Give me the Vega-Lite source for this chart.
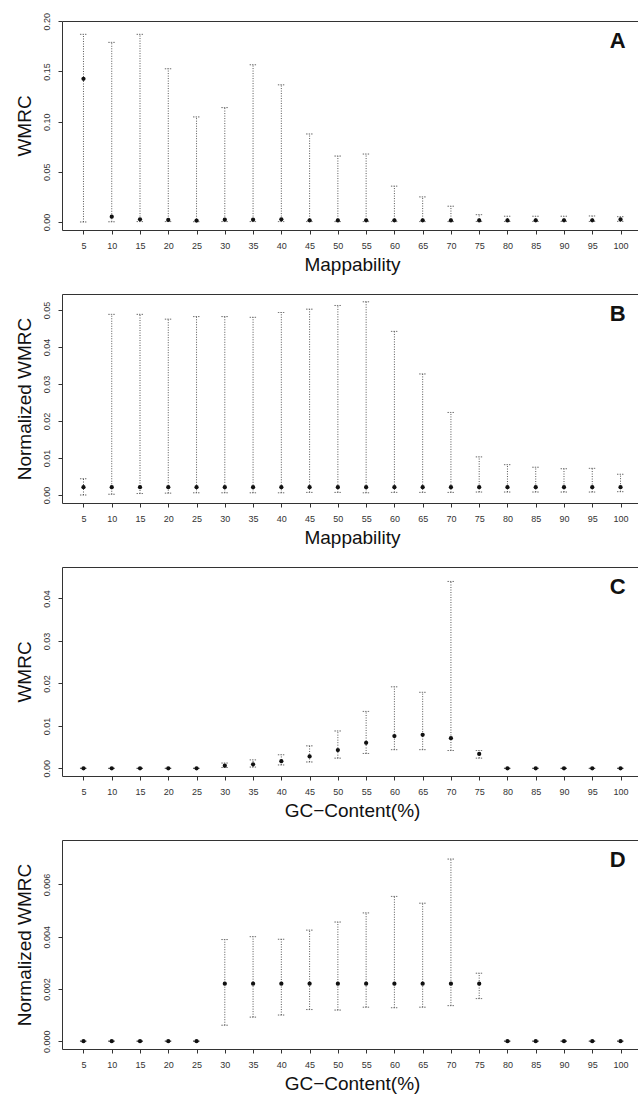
{
  "$schema": "https://vega.github.io/schema/vega-lite/v6.json",
  "padding": {"left": 14, "top": 12, "right": 0, "bottom": 0},
  "spacing": 18,
  "datasets": {
    "bars": [
      {"panel": "A", "x": 5, "mid": 0.1427, "lo": 0, "hi": 0.187},
      {"panel": "A", "x": 10, "mid": 0.0053, "lo": 0.0002, "hi": 0.179},
      {"panel": "A", "x": 15, "mid": 0.0027, "lo": 0.0004, "hi": 0.187},
      {"panel": "A", "x": 20, "mid": 0.002, "lo": 0.0004, "hi": 0.1527},
      {"panel": "A", "x": 25, "mid": 0.0014, "lo": 0.0003, "hi": 0.1047},
      {"panel": "A", "x": 30, "mid": 0.0023, "lo": 0.0004, "hi": 0.114},
      {"panel": "A", "x": 35, "mid": 0.0023, "lo": 0.0004, "hi": 0.1567},
      {"panel": "A", "x": 40, "mid": 0.0027, "lo": 0.0004, "hi": 0.1367},
      {"panel": "A", "x": 45, "mid": 0.0017, "lo": 0.0004, "hi": 0.0877},
      {"panel": "A", "x": 50, "mid": 0.0015, "lo": 0.0004, "hi": 0.0657},
      {"panel": "A", "x": 55, "mid": 0.0016, "lo": 0.0004, "hi": 0.0677},
      {"panel": "A", "x": 60, "mid": 0.0016, "lo": 0.0004, "hi": 0.0357},
      {"panel": "A", "x": 65, "mid": 0.0016, "lo": 0.0004, "hi": 0.025},
      {"panel": "A", "x": 70, "mid": 0.0015, "lo": 0.0004, "hi": 0.0157},
      {"panel": "A", "x": 75, "mid": 0.0015, "lo": 0.0005, "hi": 0.0073},
      {"panel": "A", "x": 80, "mid": 0.0015, "lo": 0.0005, "hi": 0.0057},
      {"panel": "A", "x": 85, "mid": 0.0016, "lo": 0.0005, "hi": 0.0057},
      {"panel": "A", "x": 90, "mid": 0.0016, "lo": 0.0005, "hi": 0.0057},
      {"panel": "A", "x": 95, "mid": 0.0016, "lo": 0.0005, "hi": 0.006},
      {"panel": "A", "x": 100, "mid": 0.0025, "lo": 0.0006, "hi": 0.0053},
      {"panel": "B", "x": 5, "mid": 0.0021, "lo": 0, "hi": 0.0044},
      {"panel": "B", "x": 10, "mid": 0.0021, "lo": 0.0002, "hi": 0.0488},
      {"panel": "B", "x": 15, "mid": 0.0021, "lo": 0.0004, "hi": 0.0488},
      {"panel": "B", "x": 20, "mid": 0.0021, "lo": 0.0005, "hi": 0.0475},
      {"panel": "B", "x": 25, "mid": 0.0021, "lo": 0.0006, "hi": 0.0482},
      {"panel": "B", "x": 30, "mid": 0.0021, "lo": 0.0006, "hi": 0.0482},
      {"panel": "B", "x": 35, "mid": 0.0021, "lo": 0.0006, "hi": 0.048},
      {"panel": "B", "x": 40, "mid": 0.0021, "lo": 0.0006, "hi": 0.0493},
      {"panel": "B", "x": 45, "mid": 0.0021, "lo": 0.0007, "hi": 0.0502},
      {"panel": "B", "x": 50, "mid": 0.0021, "lo": 0.0007, "hi": 0.0512},
      {"panel": "B", "x": 55, "mid": 0.0021, "lo": 0.0006, "hi": 0.0522},
      {"panel": "B", "x": 60, "mid": 0.0021, "lo": 0.0007, "hi": 0.0442},
      {"panel": "B", "x": 65, "mid": 0.0021, "lo": 0.0007, "hi": 0.0327},
      {"panel": "B", "x": 70, "mid": 0.0021, "lo": 0.0007, "hi": 0.0223},
      {"panel": "B", "x": 75, "mid": 0.0021, "lo": 0.0008, "hi": 0.0103},
      {"panel": "B", "x": 80, "mid": 0.0021, "lo": 0.0008, "hi": 0.0082},
      {"panel": "B", "x": 85, "mid": 0.0021, "lo": 0.0008, "hi": 0.0075},
      {"panel": "B", "x": 90, "mid": 0.0021, "lo": 0.0008, "hi": 0.0071},
      {"panel": "B", "x": 95, "mid": 0.0021, "lo": 0.0008, "hi": 0.0072},
      {"panel": "B", "x": 100, "mid": 0.0021, "lo": 0.0009, "hi": 0.0056},
      {"panel": "C", "x": 5, "mid": 0, "lo": 0, "hi": 0},
      {"panel": "C", "x": 10, "mid": 0, "lo": 0, "hi": 0},
      {"panel": "C", "x": 15, "mid": 0, "lo": 0, "hi": 0},
      {"panel": "C", "x": 20, "mid": 0, "lo": 0, "hi": 0},
      {"panel": "C", "x": 25, "mid": 0, "lo": 0, "hi": 0},
      {"panel": "C", "x": 30, "mid": 0.00063, "lo": 0.0002, "hi": 0.00125},
      {"panel": "C", "x": 35, "mid": 0.00094, "lo": 0.0003, "hi": 0.002},
      {"panel": "C", "x": 40, "mid": 0.0017, "lo": 0.0008, "hi": 0.0032},
      {"panel": "C", "x": 45, "mid": 0.0028, "lo": 0.0015, "hi": 0.0053},
      {"panel": "C", "x": 50, "mid": 0.0043, "lo": 0.0024, "hi": 0.0088},
      {"panel": "C", "x": 55, "mid": 0.006, "lo": 0.0035, "hi": 0.0134},
      {"panel": "C", "x": 60, "mid": 0.0076, "lo": 0.0044, "hi": 0.0192},
      {"panel": "C", "x": 65, "mid": 0.0079, "lo": 0.0044, "hi": 0.0179},
      {"panel": "C", "x": 70, "mid": 0.0071, "lo": 0.0042, "hi": 0.044},
      {"panel": "C", "x": 75, "mid": 0.0034, "lo": 0.0024, "hi": 0.0042},
      {"panel": "C", "x": 80, "mid": 0, "lo": 0, "hi": 0},
      {"panel": "C", "x": 85, "mid": 0, "lo": 0, "hi": 0},
      {"panel": "C", "x": 90, "mid": 0, "lo": 0, "hi": 0},
      {"panel": "C", "x": 95, "mid": 0, "lo": 0, "hi": 0},
      {"panel": "C", "x": 100, "mid": 0, "lo": 0, "hi": 0},
      {"panel": "D", "x": 5, "mid": 0, "lo": 0, "hi": 0},
      {"panel": "D", "x": 10, "mid": 0, "lo": 0, "hi": 0},
      {"panel": "D", "x": 15, "mid": 0, "lo": 0, "hi": 0},
      {"panel": "D", "x": 20, "mid": 0, "lo": 0, "hi": 0},
      {"panel": "D", "x": 25, "mid": 0, "lo": 0, "hi": 0},
      {"panel": "D", "x": 30, "mid": 0.0022, "lo": 0.00061, "hi": 0.00389},
      {"panel": "D", "x": 35, "mid": 0.0022, "lo": 0.00092, "hi": 0.004},
      {"panel": "D", "x": 40, "mid": 0.0022, "lo": 0.001, "hi": 0.0039},
      {"panel": "D", "x": 45, "mid": 0.0022, "lo": 0.00121, "hi": 0.00425},
      {"panel": "D", "x": 50, "mid": 0.0022, "lo": 0.00119, "hi": 0.00456},
      {"panel": "D", "x": 55, "mid": 0.0022, "lo": 0.0013, "hi": 0.00491},
      {"panel": "D", "x": 60, "mid": 0.0022, "lo": 0.00128, "hi": 0.00554},
      {"panel": "D", "x": 65, "mid": 0.0022, "lo": 0.0013, "hi": 0.00528},
      {"panel": "D", "x": 70, "mid": 0.0022, "lo": 0.00136, "hi": 0.00697},
      {"panel": "D", "x": 75, "mid": 0.0022, "lo": 0.00163, "hi": 0.0026},
      {"panel": "D", "x": 80, "mid": 0, "lo": 0, "hi": 0},
      {"panel": "D", "x": 85, "mid": 0, "lo": 0, "hi": 0},
      {"panel": "D", "x": 90, "mid": 0, "lo": 0, "hi": 0},
      {"panel": "D", "x": 95, "mid": 0, "lo": 0, "hi": 0},
      {"panel": "D", "x": 100, "mid": 0, "lo": 0, "hi": 0}
    ],
    "labels": [
      {"panel": "A", "x": 99.5, "y": 0.1734, "label": "A"},
      {"panel": "B", "x": 99.5, "y": 0.047, "label": "B"},
      {"panel": "C", "x": 99.5, "y": 0.041, "label": "C"},
      {"panel": "D", "x": 99.5, "y": 0.00667, "label": "D"}
    ]
  },
  "vconcat": [
    {
      "width": 580,
      "height": 209,
      "encoding": {
        "x": {"field": "x", "type": "quantitative", "scale": {"domain": [1.2, 103.8], "nice": false, "zero": false},
          "axis": {"values": [5, 10, 15, 20, 25, 30, 35, 40, 45, 50, 55, 60, 65, 70, 75, 80, 85, 90, 95, 100], "title": "Mappability"}}
      },
      "layer": [
        {
          "data": {"name": "bars"},
          "transform": [{"filter": "datum.panel == 'A'"}],
          "mark": {"type": "rule", "color": "#555", "strokeDash": [1, 1.5], "strokeWidth": 1},
          "encoding": {
            "y": {"field": "lo", "type": "quantitative", "title": "WMRC", "scale": {"domain": [-0.008, 0.2003], "nice": false, "zero": false},
              "axis": {"values": [0, 0.05, 0.1, 0.15, 0.2], "format": ".2f"}},
            "y2": {"field": "hi"}
          }
        },
        {
          "data": {"name": "bars"},
          "transform": [{"filter": "datum.panel == 'A'"}],
          "mark": {"type": "tick", "orient": "horizontal", "size": 7, "thickness": 0.01, "filled": false, "color": "#555", "strokeDash": [1, 1.5]},
          "encoding": {"y": {"field": "lo", "type": "quantitative", "title": "WMRC", "scale": {"domain": [-0.008, 0.2003], "nice": false, "zero": false}}}
        },
        {
          "data": {"name": "bars"},
          "transform": [{"filter": "datum.panel == 'A'"}],
          "mark": {"type": "tick", "orient": "horizontal", "size": 7, "thickness": 0.01, "filled": false, "color": "#555", "strokeDash": [1, 1.5]},
          "encoding": {"y": {"field": "hi", "type": "quantitative", "title": "WMRC", "scale": {"domain": [-0.008, 0.2003], "nice": false, "zero": false}}}
        },
        {
          "data": {"name": "bars"},
          "transform": [{"filter": "datum.panel == 'A'"}],
          "mark": {"type": "point", "filled": true, "color": "#111", "size": 18, "opacity": 1},
          "encoding": {"y": {"field": "mid", "type": "quantitative", "title": "WMRC", "scale": {"domain": [-0.008, 0.2003], "nice": false, "zero": false}}}
        },
        {
          "data": {"name": "labels"},
          "transform": [{"filter": "datum.panel == 'A'"}],
          "mark": {"type": "text", "fontSize": 22, "fontWeight": "bold", "color": "#111", "align": "center", "baseline": "alphabetic"},
          "encoding": {
            "y": {"field": "y", "type": "quantitative", "title": "WMRC", "scale": {"domain": [-0.008, 0.2003], "nice": false, "zero": false}},
            "text": {"field": "label"}
          }
        }
      ]
    },
    {
      "width": 580,
      "height": 209,
      "encoding": {
        "x": {"field": "x", "type": "quantitative", "scale": {"domain": [1.2, 103.8], "nice": false, "zero": false},
          "axis": {"values": [5, 10, 15, 20, 25, 30, 35, 40, 45, 50, 55, 60, 65, 70, 75, 80, 85, 90, 95, 100], "title": "Mappability"}}
      },
      "layer": [
        {
          "data": {"name": "bars"},
          "transform": [{"filter": "datum.panel == 'B'"}],
          "mark": {"type": "rule", "color": "#555", "strokeDash": [1, 1.5], "strokeWidth": 1},
          "encoding": {
            "y": {"field": "lo", "type": "quantitative", "title": "Normalized WMRC", "scale": {"domain": [-0.00216, 0.0543], "nice": false, "zero": false},
              "axis": {"values": [0, 0.01, 0.02, 0.03, 0.04, 0.05], "format": ".2f"}},
            "y2": {"field": "hi"}
          }
        },
        {
          "data": {"name": "bars"},
          "transform": [{"filter": "datum.panel == 'B'"}],
          "mark": {"type": "tick", "orient": "horizontal", "size": 7, "thickness": 0.01, "filled": false, "color": "#555", "strokeDash": [1, 1.5]},
          "encoding": {"y": {"field": "lo", "type": "quantitative", "title": "Normalized WMRC", "scale": {"domain": [-0.00216, 0.0543], "nice": false, "zero": false}}}
        },
        {
          "data": {"name": "bars"},
          "transform": [{"filter": "datum.panel == 'B'"}],
          "mark": {"type": "tick", "orient": "horizontal", "size": 7, "thickness": 0.01, "filled": false, "color": "#555", "strokeDash": [1, 1.5]},
          "encoding": {"y": {"field": "hi", "type": "quantitative", "title": "Normalized WMRC", "scale": {"domain": [-0.00216, 0.0543], "nice": false, "zero": false}}}
        },
        {
          "data": {"name": "bars"},
          "transform": [{"filter": "datum.panel == 'B'"}],
          "mark": {"type": "point", "filled": true, "color": "#111", "size": 18, "opacity": 1},
          "encoding": {"y": {"field": "mid", "type": "quantitative", "title": "Normalized WMRC", "scale": {"domain": [-0.00216, 0.0543], "nice": false, "zero": false}}}
        },
        {
          "data": {"name": "labels"},
          "transform": [{"filter": "datum.panel == 'B'"}],
          "mark": {"type": "text", "fontSize": 22, "fontWeight": "bold", "color": "#111", "align": "center", "baseline": "alphabetic"},
          "encoding": {
            "y": {"field": "y", "type": "quantitative", "title": "Normalized WMRC", "scale": {"domain": [-0.00216, 0.0543], "nice": false, "zero": false}},
            "text": {"field": "label"}
          }
        }
      ]
    },
    {
      "width": 580,
      "height": 209,
      "encoding": {
        "x": {"field": "x", "type": "quantitative", "scale": {"domain": [1.2, 103.8], "nice": false, "zero": false},
          "axis": {"values": [5, 10, 15, 20, 25, 30, 35, 40, 45, 50, 55, 60, 65, 70, 75, 80, 85, 90, 95, 100], "title": "GC−Content(%)"}}
      },
      "layer": [
        {
          "data": {"name": "bars"},
          "transform": [{"filter": "datum.panel == 'C'"}],
          "mark": {"type": "rule", "color": "#555", "strokeDash": [1, 1.5], "strokeWidth": 1},
          "encoding": {
            "y": {"field": "lo", "type": "quantitative", "title": "WMRC", "scale": {"domain": [-0.0018, 0.0474], "nice": false, "zero": false},
              "axis": {"values": [0, 0.01, 0.02, 0.03, 0.04], "format": ".2f"}},
            "y2": {"field": "hi"}
          }
        },
        {
          "data": {"name": "bars"},
          "transform": [{"filter": "datum.panel == 'C'"}],
          "mark": {"type": "tick", "orient": "horizontal", "size": 7, "thickness": 0.01, "filled": false, "color": "#555", "strokeDash": [1, 1.5]},
          "encoding": {"y": {"field": "lo", "type": "quantitative", "title": "WMRC", "scale": {"domain": [-0.0018, 0.0474], "nice": false, "zero": false}}}
        },
        {
          "data": {"name": "bars"},
          "transform": [{"filter": "datum.panel == 'C'"}],
          "mark": {"type": "tick", "orient": "horizontal", "size": 7, "thickness": 0.01, "filled": false, "color": "#555", "strokeDash": [1, 1.5]},
          "encoding": {"y": {"field": "hi", "type": "quantitative", "title": "WMRC", "scale": {"domain": [-0.0018, 0.0474], "nice": false, "zero": false}}}
        },
        {
          "data": {"name": "bars"},
          "transform": [{"filter": "datum.panel == 'C'"}],
          "mark": {"type": "point", "filled": true, "color": "#111", "size": 18, "opacity": 1},
          "encoding": {"y": {"field": "mid", "type": "quantitative", "title": "WMRC", "scale": {"domain": [-0.0018, 0.0474], "nice": false, "zero": false}}}
        },
        {
          "data": {"name": "labels"},
          "transform": [{"filter": "datum.panel == 'C'"}],
          "mark": {"type": "text", "fontSize": 22, "fontWeight": "bold", "color": "#111", "align": "center", "baseline": "alphabetic"},
          "encoding": {
            "y": {"field": "y", "type": "quantitative", "title": "WMRC", "scale": {"domain": [-0.0018, 0.0474], "nice": false, "zero": false}},
            "text": {"field": "label"}
          }
        }
      ]
    },
    {
      "width": 580,
      "height": 209,
      "encoding": {
        "x": {"field": "x", "type": "quantitative", "scale": {"domain": [1.2, 103.8], "nice": false, "zero": false},
          "axis": {"values": [5, 10, 15, 20, 25, 30, 35, 40, 45, 50, 55, 60, 65, 70, 75, 80, 85, 90, 95, 100], "title": "GC−Content(%)"}}
      },
      "layer": [
        {
          "data": {"name": "bars"},
          "transform": [{"filter": "datum.panel == 'D'"}],
          "mark": {"type": "rule", "color": "#555", "strokeDash": [1, 1.5], "strokeWidth": 1},
          "encoding": {
            "y": {"field": "lo", "type": "quantitative", "title": "Normalized WMRC", "scale": {"domain": [-0.0003, 0.0077], "nice": false, "zero": false},
              "axis": {"values": [0, 0.002, 0.004, 0.006], "format": ".3f"}},
            "y2": {"field": "hi"}
          }
        },
        {
          "data": {"name": "bars"},
          "transform": [{"filter": "datum.panel == 'D'"}],
          "mark": {"type": "tick", "orient": "horizontal", "size": 7, "thickness": 0.01, "filled": false, "color": "#555", "strokeDash": [1, 1.5]},
          "encoding": {"y": {"field": "lo", "type": "quantitative", "title": "Normalized WMRC", "scale": {"domain": [-0.0003, 0.0077], "nice": false, "zero": false}}}
        },
        {
          "data": {"name": "bars"},
          "transform": [{"filter": "datum.panel == 'D'"}],
          "mark": {"type": "tick", "orient": "horizontal", "size": 7, "thickness": 0.01, "filled": false, "color": "#555", "strokeDash": [1, 1.5]},
          "encoding": {"y": {"field": "hi", "type": "quantitative", "title": "Normalized WMRC", "scale": {"domain": [-0.0003, 0.0077], "nice": false, "zero": false}}}
        },
        {
          "data": {"name": "bars"},
          "transform": [{"filter": "datum.panel == 'D'"}],
          "mark": {"type": "point", "filled": true, "color": "#111", "size": 18, "opacity": 1},
          "encoding": {"y": {"field": "mid", "type": "quantitative", "title": "Normalized WMRC", "scale": {"domain": [-0.0003, 0.0077], "nice": false, "zero": false}}}
        },
        {
          "data": {"name": "labels"},
          "transform": [{"filter": "datum.panel == 'D'"}],
          "mark": {"type": "text", "fontSize": 22, "fontWeight": "bold", "color": "#111", "align": "center", "baseline": "alphabetic"},
          "encoding": {
            "y": {"field": "y", "type": "quantitative", "title": "Normalized WMRC", "scale": {"domain": [-0.0003, 0.0077], "nice": false, "zero": false}},
            "text": {"field": "label"}
          }
        }
      ]
    }
  ],
  "config": {
    "font": "Liberation Sans",
    "background": "white",
    "view": {"stroke": "#333", "strokeWidth": 1},
    "axis": {
      "grid": false,
      "domain": false,
      "tickColor": "#333",
      "tickSize": 4,
      "labelFont": "Liberation Sans",
      "labelFontSize": 9,
      "labelColor": "#333",
      "labelPadding": 7,
      "titleFont": "Liberation Sans",
      "titleFontSize": 19,
      "titleFontWeight": "normal",
      "titleColor": "#111"
    },
    "axisX": {"titlePadding": 5},
    "axisY": {"labelAngle": -90, "titlePadding": 8}
  }
}
